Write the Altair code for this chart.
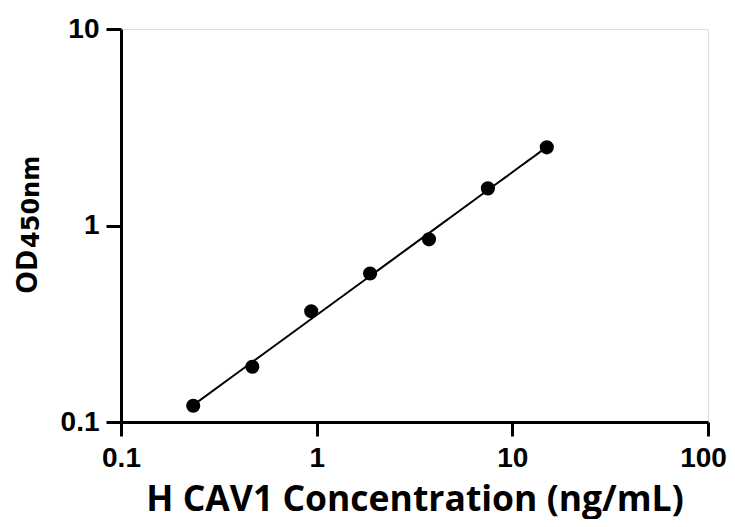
import altair as alt
import pandas as pd

# Data
conc = [0.234, 0.469, 0.938, 1.875, 3.75, 7.5, 15.0]
od = [0.121, 0.191, 0.366, 0.570, 0.850, 1.545, 2.50]

x_ticks = [0.1, 1, 10, 100]
y_ticks = [0.1, 1, 10]

x_title = "H CAV1 Concentration (ng/mL)"
y_title_main = "OD"
y_title_sub = "450nm"

df = pd.DataFrame({"conc": conc, "od": od})

W, H = 587, 393
LABEL_FONT = "Liberation Sans"
TITLE_FONT = "Open Sans"

x_enc = alt.X(
    "conc:Q",
    scale=alt.Scale(type="log", domain=[0.1, 100], nice=False),
    axis=alt.Axis(
        values=x_ticks, format="~g", title=x_title,
        titleFont=TITLE_FONT, titleFontSize=35.5, titleFontWeight="bold",
        titleColor="black", titleBaseline="alphabetic", titleY=88,
        labelFont=LABEL_FONT, labelFontSize=28, labelFontWeight="bold",
        labelColor="black", labelPadding=8, labelFlush=False,
        labelOffset={"condition": {"test": "datum.value == 100", "value": -5}, "value": 0},
        tickSize=14, tickWidth=3, tickColor="black",
        domainWidth=3, domainColor="black", grid=False,
    ),
)
y_enc = alt.Y(
    "od:Q",
    scale=alt.Scale(type="log", domain=[0.1, 10], nice=False),
    axis=alt.Axis(
        values=y_ticks, format="~g", title=None,
        labelFont=LABEL_FONT, labelFontSize=28, labelFontWeight="bold",
        labelColor="black", labelPadding=7, labelFlush=False,
        tickSize=15, tickWidth=3, tickColor="black",
        domainWidth=3, domainColor="black", grid=False,
    ),
)

base = alt.Chart(df)

fit = base.transform_regression("conc", "od", method="pow").mark_line(
    color="black", strokeWidth=2
).encode(x=x_enc, y=y_enc)

pts = base.mark_point(
    filled=True, shape="circle", size=200, color="black", opacity=1
).encode(x=x_enc, y=y_enc)

t_main = alt.Chart(pd.DataFrame({"t": [y_title_main]})).mark_text(
    angle=270, align="left", baseline="alphabetic",
    font=TITLE_FONT, fontSize=29, fontWeight="bold", color="black"
).encode(text="t:N", x=alt.value(-84), y=alt.value(265))

t_sub = alt.Chart(pd.DataFrame({"t": [y_title_sub]})).mark_text(
    angle=270, align="left", baseline="alphabetic",
    font="DejaVu Sans", fontSize=24, fontWeight="bold", color="black"
).encode(text="t:N", x=alt.value(-82.5), y=alt.value(219))

chart = alt.layer(fit, pts, t_main, t_sub).properties(
    width=W, height=H,
    autosize=alt.AutoSizeParams(type="none"),
    padding={"left": 113, "top": 21, "right": 19, "bottom": 97},
).configure_view(stroke=None).configure(background="white")

chart.save("out.html", embed_options={"renderer": "svg", "actions": False})
